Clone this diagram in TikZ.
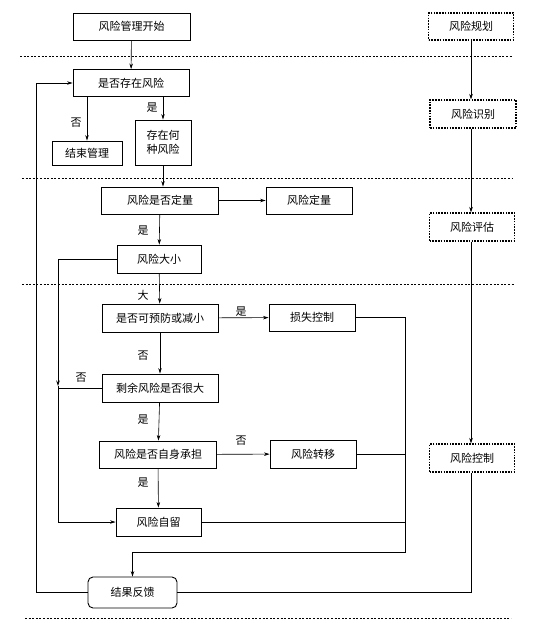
\documentclass[tikz,border=0pt]{standalone}
\usepackage{fontspec}
\newfontfamily\cjk{Noto Sans CJK SC}
\usepackage{tikz}
\usetikzlibrary{arrows.meta}

\tikzset{
  box/.style={draw, line width=0.9pt, inner sep=0pt, minimum height=27pt, font=\cjk\fontsize{11}{14}\selectfont},
  planbox/.style={box, line width=1.1pt, dash pattern=on 1.6pt off 1.2pt},
  sepline/.style={line width=1pt, dash pattern=on 2pt off 1.6pt},
  lab/.style={font=\cjk\fontsize{11}{13}\selectfont, inner sep=0pt},
  link/.style={line width=0.6pt, >={Stealth[length=5.5pt,width=3.5pt]}}
}

\begin{document}
\begin{tikzpicture}[x=1pt,y=-1pt]
\useasboundingbox (0,0) rectangle (534,623);
% separators
\draw[sepline] (20,57) -- (512,57);
\draw[sepline] (22,178) -- (512,178);
\draw[sepline] (22,284) -- (515,284);
\draw[sepline] (25,618) -- (511,618);

% main flow
\node[box, minimum width=117pt] (start) at (131.5,26.5) {风险管理开始};
\node[box, minimum width=116pt] (exist) at (131,83) {是否存在风险};
\node[box, minimum width=70pt, minimum height=24pt] (endm) at (87,153) {结束管理};
\node[box, minimum width=56pt, minimum height=45pt, align=center] (which) at (163,142.5) {存在何\\种风险};
\node[box, minimum width=117pt] (quant) at (160,200.5) {风险是否定量};
\node[box, minimum width=86pt] (quantify) at (309,200.5) {风险定量};
\node[box, minimum width=84pt, minimum height=28pt] (size) at (159,259) {风险大小};
\node[box, minimum width=116pt, minimum height=28pt] (prevent) at (160,318) {是否可预防或减小};
\node[box, minimum width=86pt] (loss) at (312,317.5) {损失控制};
\node[box, minimum width=116pt, minimum height=28pt] (residual) at (160,388) {剩余风险是否很大};
\node[box, minimum width=117pt] (self) at (158,454.5) {风险是否自身承担};
\node[box, minimum width=86pt, minimum height=28pt] (transfer) at (313,454) {风险转移};
\node[box, minimum width=85pt, minimum height=28pt] (retain) at (158.5,522) {风险自留};
\node[box, minimum width=89pt, minimum height=31pt, rounded corners=5pt] (feedback) at (132.5,592.5) {结果反馈};

% right column
\node[planbox, minimum width=85pt] (plan) at (471,26.5) {风险规划};
\node[planbox, minimum width=86pt, minimum height=28pt] (ident) at (473,114) {风险识别};
\node[planbox, minimum width=85pt, minimum height=28pt] (assess) at (472,227) {风险评估};
\node[planbox, minimum width=85pt, minimum height=28pt] (control) at (472,458) {风险控制};

\coordinate (lp) at (36,592.5);
\coordinate (lc) at (58,522);
\coordinate (rc) at (405,552);
\coordinate (rx) at (471,0);

% connectors
\draw[link,->] (start) -- (exist);
\draw[link,->] (exist.south -| endm) -- (endm.north);
\draw[link,->] (exist.south -| which) -- (which.north);
\draw[link,->] (which) -- (which |- quant.north);
\draw[link,->] (quant) -- (quantify);
\draw[link,->] (quant) -- (size);
\draw[link,->] (size) -- (prevent);
\draw[link,->] (prevent) -- (loss);
\draw[link,->] (prevent) -- (residual);
\draw[link,->] (residual) -- (self);
\draw[link,->] (self) -- (transfer);
\draw[link,->] (self) -- (retain);
\draw[link,->] (size.west) -| (58,386);
\draw[link,->] (58,386) -- (lc) -- (retain.west);
\draw[link] (residual.west) -- (residual.west -| lc);
\draw[link,->] (loss.east) -| (rc) -| (feedback.north);
\draw[link] (transfer.east) -- (transfer.east -| rc);
\draw[link] (retain.east) -- (retain.east -| rc);
\draw[link,->] (feedback.west) -- (lp) |- (exist.west);
\draw[link] (feedback.east) -| (control.south -| rx);
\draw[link,->] (plan.south -| rx) -- (ident.north -| rx);
\draw[link,->] (ident.south -| rx) -- (assess.north -| rx);
\draw[link,->] (assess.south -| rx) -- (control.north -| rx);

% labels
\node[lab] (l1) at (76,123) {否};
\node[lab] (l2) at (152,108) {是};
\node[lab] (l3) at (143,231) {是};
\node[lab] (l4) at (143,295) {大};
\node[lab] (l5) at (241,312) {是};
\node[lab] (l6) at (143,356) {否};
\node[lab] (l7) at (81,378) {否};
\node[lab] (l8) at (143,420) {是};
\node[lab] (l9) at (241,441) {否};
\node[lab] (l10) at (143,483) {是};
\end{tikzpicture}
\end{document}
